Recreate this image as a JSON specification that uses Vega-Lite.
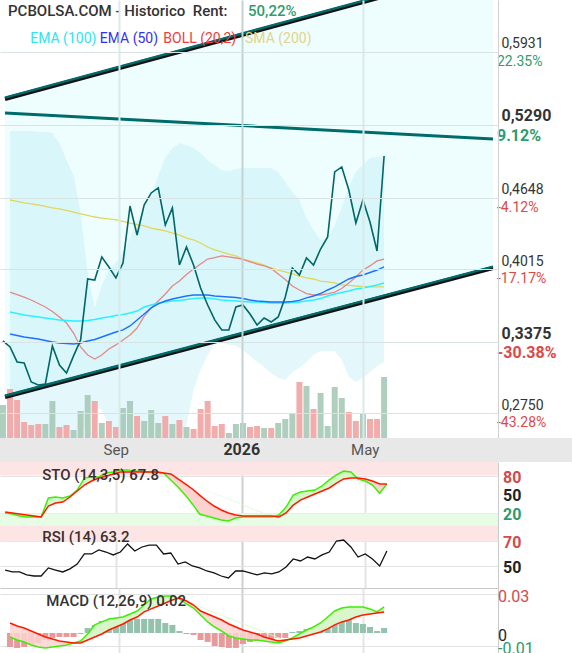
{
"$schema":"https://vega.github.io/schema/vega-lite/v6.json",
"padding":0,"spacing":0,"bounds":"flush","background":"white",
"config":{"view":{"stroke":null},"font":"Roboto","axis":{"labelFont":"Roboto","title":null,"ticks":false,"labelOverlap":false},"text":{"font":"Roboto"}},
"datasets":{
"weekly":[
{"date":"2025-05-09","close":0.3385,"dir":"up","vol":660000},
{"date":"2025-05-16","close":0.3332,"dir":"down","vol":980000,"sma200":0.4627,"boll":0.3816,"bollUp":0.5235,"bollLow":0.2336,"ema50":0.3446,"ema100":0.3640,"k":20.6,"d":22.2,"rsi":46.7,"macd":-0.0031,"signal":0.0077,"hist":-0.0108},
{"date":"2025-05-23","close":0.3200,"dir":"down","vol":760000,"sma200":0.4614,"boll":0.3794,"bollUp":0.5235,"bollLow":0.2292,"ema50":0.3433,"ema100":0.3627,"k":19.0,"d":20.6,"rsi":45.1,"macd":-0.0054,"signal":0.0054,"hist":-0.0115},
{"date":"2025-05-30","close":0.3191,"dir":"down","vol":320000,"sma200":0.4601,"boll":0.3772,"bollUp":0.5235,"bollLow":0.2266,"ema50":0.3420,"ema100":0.3614,"k":15.9,"d":19.0,"rsi":45.1,"macd":-0.0069,"signal":0.0038,"hist":-0.0108},
{"date":"2025-06-06","close":0.3024,"dir":"down","vol":260000,"sma200":0.4592,"boll":0.3746,"bollUp":0.5235,"bollLow":0.2248,"ema50":0.3411,"ema100":0.3605,"k":14.3,"d":17.5,"rsi":42.7,"macd":-0.0092,"signal":0.0015,"hist":-0.0092},
{"date":"2025-06-13","close":0.2997,"dir":"down","vol":280000,"sma200":0.4583,"boll":0.3715,"bollUp":0.5226,"bollLow":0.2248,"ema50":0.3402,"ema100":0.3596,"k":14.3,"d":15.9,"rsi":41.8,"macd":-0.0108,"signal":-0.0008,"hist":-0.0077},
{"date":"2025-06-20","close":0.3006,"dir":"up","vol":280000,"sma200":0.4570,"boll":0.3684,"bollUp":0.5226,"bollLow":0.2266,"ema50":0.3389,"ema100":0.3587,"k":14.3,"d":14.3,"rsi":41.8,"macd":-0.0115,"signal":-0.0031,"hist":-0.0054},
{"date":"2025-06-27","close":0.3341,"dir":"up","vol":740000,"sma200":0.4557,"boll":0.3645,"bollUp":0.5217,"bollLow":0.2292,"ema50":0.3376,"ema100":0.3579,"k":44.4,"d":31.7,"rsi":48.4,"macd":-0.0108,"signal":-0.0046,"hist":-0.0038},
{"date":"2025-07-04","close":0.3173,"dir":"down","vol":220000,"sma200":0.4548,"boll":0.3596,"bollUp":0.5129,"bollLow":0.2319,"ema50":0.3367,"ema100":0.3570,"k":46.0,"d":36.5,"rsi":46.7,"macd":-0.0100,"signal":-0.0062,"hist":-0.0031},
{"date":"2025-07-11","close":0.3103,"dir":"down","vol":260000,"sma200":0.4535,"boll":0.3543,"bollUp":0.4980,"bollLow":0.2354,"ema50":0.3363,"ema100":0.3565,"k":44.4,"d":38.0,"rsi":45.1,"macd":-0.0092,"signal":-0.0069,"hist":-0.0031},
{"date":"2025-07-18","close":0.3253,"dir":"up","vol":160000,"sma200":0.4521,"boll":0.3455,"bollUp":0.4847,"bollLow":0.2407,"ema50":0.3358,"ema100":0.3561,"k":47.6,"d":46.0,"rsi":47.6,"macd":-0.0077,"signal":-0.0077,"hist":-0.0031},
{"date":"2025-07-25","close":0.3394,"dir":"up","vol":540000,"sma200":0.4504,"boll":0.3332,"bollUp":0.4513,"bollLow":0.2513,"ema50":0.3367,"ema100":0.3561,"k":57.0,"d":55.5,"rsi":51.6,"macd":-0.0062,"signal":-0.0077,"hist":-0.0008},
{"date":"2025-08-01","close":0.3931,"dir":"up","vol":860000,"sma200":0.4491,"boll":0.3261,"bollUp":0.3984,"bollLow":0.2689,"ema50":0.3385,"ema100":0.3565,"k":76.0,"d":65.0,"rsi":59.8,"macd":-0.0008,"signal":-0.0054,"hist":0.0038},
{"date":"2025-08-08","close":0.3922,"dir":"down","vol":740000,"sma200":0.4477,"boll":0.3226,"bollUp":0.3676,"bollLow":0.2803,"ema50":0.3398,"ema100":0.3574,"k":77.8,"d":71.4,"rsi":59.8,"macd":0.0062,"signal":-0.0031,"hist":0.0062},
{"date":"2025-08-15","close":0.4125,"dir":"up","vol":300000,"sma200":0.4468,"boll":0.3261,"bollUp":0.3878,"bollLow":0.2777,"ema50":0.3420,"ema100":0.3587,"k":77.8,"d":76.0,"rsi":63.1,"macd":0.0085,"signal":-0.0008,"hist":0.0092},
{"date":"2025-08-22","close":0.4037,"dir":"down","vol":340000,"sma200":0.4460,"boll":0.3314,"bollUp":0.4010,"bollLow":0.2645,"ema50":0.3442,"ema100":0.3596,"k":84.0,"d":79.0,"rsi":61.4,"macd":0.0108,"signal":0.0023,"hist":0.0092},
{"date":"2025-08-29","close":0.3940,"dir":"down","vol":220000,"sma200":0.4451,"boll":0.3350,"bollUp":0.4081,"bollLow":0.2513,"ema50":0.3464,"ema100":0.3609,"k":85.7,"d":82.5,"rsi":59.0,"macd":0.0115,"signal":0.0046,"hist":0.0092},
{"date":"2025-09-05","close":0.4072,"dir":"up","vol":600000,"sma200":0.4438,"boll":0.3394,"bollUp":0.4169,"bollLow":0.2380,"ema50":0.3482,"ema100":0.3618,"k":89.0,"d":85.7,"rsi":61.4,"macd":0.0123,"signal":0.0069,"hist":0.0092},
{"date":"2025-09-12","close":0.4574,"dir":"up","vol":740000,"sma200":0.4424,"boll":0.3438,"bollUp":0.4292,"bollLow":0.2292,"ema50":0.3517,"ema100":0.3631,"k":89.0,"d":85.7,"rsi":68.0,"macd":0.0146,"signal":0.0100,"hist":0.0100},
{"date":"2025-09-19","close":0.4319,"dir":"down","vol":440000,"sma200":0.4411,"boll":0.3499,"bollUp":0.4433,"bollLow":0.2248,"ema50":0.3570,"ema100":0.3649,"k":87.0,"d":85.7,"rsi":62.2,"macd":0.0169,"signal":0.0123,"hist":0.0108},
{"date":"2025-09-26","close":0.4583,"dir":"up","vol":340000,"sma200":0.4398,"boll":0.3601,"bollUp":0.4539,"bollLow":0.2248,"ema50":0.3623,"ema100":0.3684,"k":87.0,"d":85.7,"rsi":65.5,"macd":0.0215,"signal":0.0162,"hist":0.0108},
{"date":"2025-10-03","close":0.4689,"dir":"up","vol":560000,"sma200":0.4380,"boll":0.3676,"bollUp":0.4654,"bollLow":0.2248,"ema50":0.3676,"ema100":0.3702,"k":85.7,"d":85.7,"rsi":67.1,"macd":0.0262,"signal":0.0185,"hist":0.0108},
{"date":"2025-10-10","close":0.4733,"dir":"up","vol":300000,"sma200":0.4367,"boll":0.3737,"bollUp":0.4847,"bollLow":0.2248,"ema50":0.3711,"ema100":0.3720,"k":85.7,"d":85.7,"rsi":67.1,"macd":0.0277,"signal":0.0208,"hist":0.0108},
{"date":"2025-10-17","close":0.4407,"dir":"down","vol":440000,"sma200":0.4354,"boll":0.3799,"bollUp":0.4997,"bollLow":0.2248,"ema50":0.3737,"ema100":0.3728,"k":84.0,"d":84.0,"rsi":59.8,"macd":0.0285,"signal":0.0231,"hist":0.0077},
{"date":"2025-10-24","close":0.4557,"dir":"up","vol":280000,"sma200":0.4336,"boll":0.3869,"bollUp":0.5085,"bollLow":0.2292,"ema50":0.3755,"ema100":0.3737,"k":73.0,"d":82.5,"rsi":60.6,"macd":0.0285,"signal":0.0254,"hist":0.0062},
{"date":"2025-10-31","close":0.4054,"dir":"down","vol":360000,"sma200":0.4319,"boll":0.3913,"bollUp":0.5129,"bollLow":0.2468,"ema50":0.3768,"ema100":0.3742,"k":62.0,"d":74.6,"rsi":51.6,"macd":0.0262,"signal":0.0269,"hist":0.0015},
{"date":"2025-11-07","close":0.4213,"dir":"up","vol":220000,"sma200":0.4292,"boll":0.3971,"bollUp":0.5112,"bollLow":0.2645,"ema50":0.3781,"ema100":0.3750,"k":49.0,"d":66.7,"rsi":53.3,"macd":0.0223,"signal":0.0246,"hist":-0.0008},
{"date":"2025-11-14","close":0.4054,"dir":"down","vol":180000,"sma200":0.4275,"boll":0.4019,"bollUp":0.5085,"bollLow":0.2953,"ema50":0.3790,"ema100":0.3759,"k":35.0,"d":58.7,"rsi":50.0,"macd":0.0192,"signal":0.0215,"hist":-0.0015},
{"date":"2025-11-21","close":0.3852,"dir":"down","vol":580000,"sma200":0.4248,"boll":0.4063,"bollUp":0.5041,"bollLow":0.3129,"ema50":0.3790,"ema100":0.3764,"k":19.0,"d":49.0,"rsi":48.4,"macd":0.0138,"signal":0.0169,"hist":-0.0054},
{"date":"2025-11-28","close":0.3702,"dir":"down","vol":740000,"sma200":0.4213,"boll":0.4107,"bollUp":0.4980,"bollLow":0.3261,"ema50":0.3790,"ema100":0.3764,"k":15.9,"d":39.7,"rsi":45.9,"macd":0.0085,"signal":0.0146,"hist":-0.0069},
{"date":"2025-12-05","close":0.3570,"dir":"down","vol":240000,"sma200":0.4187,"boll":0.4120,"bollUp":0.4935,"bollLow":0.3358,"ema50":0.3781,"ema100":0.3755,"k":12.7,"d":31.7,"rsi":44.3,"macd":0.0046,"signal":0.0123,"hist":-0.0100},
{"date":"2025-12-12","close":0.3482,"dir":"down","vol":280000,"sma200":0.4169,"boll":0.4134,"bollUp":0.4891,"bollLow":0.3367,"ema50":0.3777,"ema100":0.3746,"k":9.5,"d":25.4,"rsi":41.8,"macd":0.0015,"signal":0.0100,"hist":-0.0108},
{"date":"2025-12-19","close":0.3482,"dir":"up","vol":100000,"sma200":0.4151,"boll":0.4125,"bollUp":0.4883,"bollLow":0.3350,"ema50":0.3772,"ema100":0.3742,"k":8.0,"d":20.6,"rsi":40.2,"macd":-0.0023,"signal":0.0069,"hist":-0.0115},
{"date":"2025-12-26","close":0.3684,"dir":"up","vol":280000,"sma200":0.4134,"boll":0.4116,"bollUp":0.4900,"bollLow":0.3341,"ema50":0.3768,"ema100":0.3737,"k":12.7,"d":17.5,"rsi":45.9,"macd":-0.0038,"signal":0.0046,"hist":-0.0115},
{"date":"2026-01-02","close":0.3702,"dir":"up","vol":300000,"sma200":0.4107,"boll":0.4103,"bollUp":0.4909,"bollLow":0.3305,"ema50":0.3759,"ema100":0.3733,"k":14.3,"d":15.9,"rsi":45.9,"macd":-0.0046,"signal":0.0023,"hist":-0.0085},
{"date":"2026-01-09","close":0.3623,"dir":"down","vol":220000,"sma200":0.4090,"boll":0.4081,"bollUp":0.4909,"bollLow":0.3253,"ema50":0.3746,"ema100":0.3728,"k":14.3,"d":15.9,"rsi":44.3,"macd":-0.0054,"signal":0.0008,"hist":-0.0069},
{"date":"2026-01-16","close":0.3526,"dir":"down","vol":240000,"sma200":0.4072,"boll":0.4063,"bollUp":0.4909,"bollLow":0.3200,"ema50":0.3737,"ema100":0.3728,"k":14.3,"d":15.9,"rsi":42.7,"macd":-0.0054,"signal":-0.0008,"hist":-0.0062},
{"date":"2026-01-23","close":0.3587,"dir":"up","vol":200000,"sma200":0.4054,"boll":0.4046,"bollUp":0.4909,"bollLow":0.3156,"ema50":0.3733,"ema100":0.3724,"k":14.3,"d":15.9,"rsi":44.3,"macd":-0.0062,"signal":-0.0031,"hist":-0.0054},
{"date":"2026-01-30","close":0.3552,"dir":"down","vol":200000,"sma200":0.4028,"boll":0.4024,"bollUp":0.4909,"bollLow":0.3103,"ema50":0.3728,"ema100":0.3720,"k":14.3,"d":15.9,"rsi":43.5,"macd":-0.0069,"signal":-0.0046,"hist":-0.0046},
{"date":"2026-02-06","close":0.3596,"dir":"up","vol":300000,"sma200":0.4010,"boll":0.3975,"bollUp":0.4874,"bollLow":0.3059,"ema50":0.3728,"ema100":0.3720,"k":17.5,"d":14.3,"rsi":45.1,"macd":-0.0077,"signal":-0.0062,"hist":-0.0038},
{"date":"2026-02-13","close":0.3772,"dir":"up","vol":380000,"sma200":0.3993,"boll":0.3927,"bollUp":0.4786,"bollLow":0.3041,"ema50":0.3728,"ema100":0.3720,"k":30.0,"d":20.6,"rsi":49.2,"macd":-0.0062,"signal":-0.0054,"hist":-0.0038},
{"date":"2026-02-20","close":0.4028,"dir":"up","vol":480000,"sma200":0.3975,"boll":0.3869,"bollUp":0.4698,"bollLow":0.3112,"ema50":0.3733,"ema100":0.3724,"k":49.0,"d":33.0,"rsi":55.7,"macd":-0.0038,"signal":-0.0046,"hist":0.0008},
{"date":"2026-02-27","close":0.3966,"dir":"down","vol":1120000,"sma200":0.3957,"boll":0.3834,"bollUp":0.4627,"bollLow":0.3147,"ema50":0.3742,"ema100":0.3728,"k":54.0,"d":41.0,"rsi":54.1,"macd":-0.0008,"signal":-0.0038,"hist":0.0015},
{"date":"2026-03-06","close":0.4116,"dir":"up","vol":1040000,"sma200":0.3940,"boll":0.3803,"bollUp":0.4468,"bollLow":0.3200,"ema50":0.3764,"ema100":0.3737,"k":55.5,"d":46.0,"rsi":57.3,"macd":0.0023,"signal":-0.0023,"hist":0.0031},
{"date":"2026-03-13","close":0.4054,"dir":"down","vol":580000,"sma200":0.3931,"boll":0.3790,"bollUp":0.4363,"bollLow":0.3261,"ema50":0.3781,"ema100":0.3746,"k":57.0,"d":50.8,"rsi":55.7,"macd":0.0046,"signal":-0.0008,"hist":0.0038},
{"date":"2026-03-20","close":0.4195,"dir":"up","vol":900000,"sma200":0.3913,"boll":0.3790,"bollUp":0.4275,"bollLow":0.3297,"ema50":0.3803,"ema100":0.3759,"k":63.5,"d":55.5,"rsi":59.0,"macd":0.0077,"signal":0.0008,"hist":0.0038},
{"date":"2026-03-27","close":0.4301,"dir":"up","vol":240000,"sma200":0.3905,"boll":0.3799,"bollUp":0.4292,"bollLow":0.3297,"ema50":0.3834,"ema100":0.3781,"k":73.0,"d":60.3,"rsi":61.4,"macd":0.0123,"signal":0.0031,"hist":0.0054},
{"date":"2026-04-03","close":0.4874,"dir":"up","vol":1020000,"sma200":0.3896,"boll":0.3816,"bollUp":0.4407,"bollLow":0.3297,"ema50":0.3861,"ema100":0.3799,"k":81.0,"d":68.0,"rsi":70.4,"macd":0.0169,"signal":0.0062,"hist":0.0092},
{"date":"2026-04-10","close":0.4918,"dir":"up","vol":800000,"sma200":0.3878,"boll":0.3847,"bollUp":0.4565,"bollLow":0.3217,"ema50":0.3896,"ema100":0.3812,"k":87.0,"d":74.6,"rsi":71.2,"macd":0.0192,"signal":0.0085,"hist":0.0115},
{"date":"2026-04-17","close":0.4715,"dir":"down","vol":520000,"sma200":0.3874,"boll":0.3896,"bollUp":0.4742,"bollLow":0.3068,"ema50":0.3931,"ema100":0.3825,"k":85.7,"d":76.0,"rsi":65.5,"macd":0.0200,"signal":0.0100,"hist":0.0108},
{"date":"2026-04-24","close":0.4424,"dir":"down","vol":340000,"sma200":0.3869,"boll":0.3949,"bollUp":0.4874,"bollLow":0.3024,"ema50":0.3953,"ema100":0.3843,"k":74.6,"d":76.0,"rsi":57.3,"macd":0.0200,"signal":0.0123,"hist":0.0077},
{"date":"2026-05-01","close":0.4627,"dir":"up","vol":500000,"sma200":0.3865,"boll":0.4010,"bollUp":0.4935,"bollLow":0.3059,"ema50":0.3966,"ema100":0.3852,"k":71.4,"d":74.6,"rsi":59.8,"macd":0.0200,"signal":0.0138,"hist":0.0069},
{"date":"2026-05-08","close":0.4433,"dir":"down","vol":380000,"sma200":0.3861,"boll":0.4046,"bollUp":0.4997,"bollLow":0.3112,"ema50":0.3988,"ema100":0.3865,"k":65.0,"d":71.4,"rsi":55.7,"macd":0.0185,"signal":0.0146,"hist":0.0046},
{"date":"2026-05-15","close":0.4178,"dir":"down","vol":380000,"sma200":0.3861,"boll":0.4090,"bollUp":0.5006,"bollLow":0.3165,"ema50":0.4010,"ema100":0.3878,"k":52.0,"d":66.7,"rsi":50.0,"macd":0.0162,"signal":0.0154,"hist":0.0015},
{"date":"2026-05-22","close":0.5015,"dir":"up","vol":1220000,"sma200":0.3861,"boll":0.4107,"bollUp":0.5015,"bollLow":0.3200,"ema50":0.4037,"ema100":0.3896,"k":66.7,"d":66.7,"rsi":62.2,"macd":0.0200,"signal":0.0162,"hist":0.0038}
],
"channel":[
{"date":"2025-05-11","upper":0.5517,"middle":0.5394,"lower":0.2891},
{"date":"2026-09-07","upper":0.6680,"middle":0.5164,"lower":0.4028}
]
},
"vconcat":[
{
"width":498,"height":438,
"resolve":{"scale":{"y":"independent"}},
"layer":[
{"layer":[
 {"data":{"name":"channel"},"mark":{"type":"area","color":"#eefefe","clip":true},
  "encoding":{"x":{"field":"date","type":"temporal","scale":{"type":"utc","domain":[{"year":2025,"month":5,"date":11,"utc":true},{"year":2026,"month":9,"date":7,"utc":true}]}},
   "y":{"field":"lower","type":"quantitative","scale":{"domain":[0.253,0.6389],"zero":false,"nice":false},"axis":null},"y2":{"field":"upper"}}},
 {"data":{"name":"weekly"},"mark":{"type":"area","color":"#b9ecf6","opacity":0.38,"clip":true},
  "encoding":{"x":{"field":"date","type":"temporal"},
   "y":{"field":"bollLow","type":"quantitative","axis":null},"y2":{"field":"bollUp"}}}
]},
{"data":{"name":"weekly"},"mark":{"type":"bar","size":6,"opacity":0.92,"clip":true},
 "encoding":{"x":{"field":"date","type":"temporal"},
  "y":{"field":"vol","type":"quantitative","scale":{"domain":[0,8760000],"nice":false},"axis":null},
  "color":{"field":"dir","type":"nominal","scale":{"domain":["up","down"],"range":["#a8cab9","#f1a5a5"]},"legend":null}}},
{"layer":[
 {"data":{"name":"weekly"},"mark":{"type":"line","color":"#e2d65c","strokeWidth":1.3,"clip":true},
  "encoding":{"x":{"field":"date","type":"temporal","axis":{"values":[{"year":2025,"month":9,"date":1,"utc":true},{"year":2026,"month":1,"date":1,"utc":true},{"year":2026,"month":5,"date":1,"utc":true}],"labels":false,"ticks":false,"domain":false,"grid":true,"gridWidth":2,"gridColor":{"condition":{"test":"utcmonth(datum.value)==0","value":"#c3d2d2"},"value":"#d9eaea"},"zindex":1,"title":null}},
   "y":{"field":"sma200","type":"quantitative","scale":{"domain":[0.253,0.6389],"zero":false,"nice":false},
    "axis":{"orient":"right","values":[0.275,0.3375,0.4015,0.4648,0.529,0.5931],"labelExpr":"replace(format(datum.value,'.4f'),'.',',')","labelBaseline":"alphabetic","labelOffset":-4,"labelPadding":3,"labelColor":"#333333","labelFontSize":{"condition":{"test":"datum.value==0.529||datum.value==0.3375","value":16},"value":14},"labelFontWeight":{"condition":{"test":"datum.value==0.529||datum.value==0.3375","value":"bold"},"value":"normal"},"grid":true,"gridColor":"#d8e4e4","domain":true,"domainColor":"#d0d0d0","ticks":false,"zindex":1,"labelFlush":false,"labelOverlap":false,"title":null}}}},
 {"data":{"name":"weekly"},"mark":{"type":"line","color":"#e48888","strokeWidth":1.3,"clip":true},
  "encoding":{"x":{"field":"date","type":"temporal"},"y":{"field":"boll","type":"quantitative"}}},
 {"data":{"name":"weekly"},"mark":{"type":"line","color":"#2af0ff","strokeWidth":1.4,"clip":true},
  "encoding":{"x":{"field":"date","type":"temporal"},"y":{"field":"ema100","type":"quantitative"}}},
 {"data":{"name":"weekly"},"mark":{"type":"line","color":"#1f70ff","strokeWidth":1.4,"clip":true},
  "encoding":{"x":{"field":"date","type":"temporal"},"y":{"field":"ema50","type":"quantitative"}}},
 {"data":{"name":"channel"},"mark":{"type":"line","color":"#006b6b","strokeWidth":3,"clip":true},
  "encoding":{"x":{"field":"date","type":"temporal"},"y":{"field":"middle","type":"quantitative"}}},
 {"data":{"name":"channel"},"mark":{"type":"line","color":"#111111","strokeWidth":4,"clip":true},
  "encoding":{"x":{"field":"date","type":"temporal"},"y":{"field":"lower","type":"quantitative"}}},
 {"data":{"name":"channel"},"mark":{"type":"line","color":"#006b6b","strokeWidth":2.4,"yOffset":-1.3,"clip":true},
  "encoding":{"x":{"field":"date","type":"temporal"},"y":{"field":"lower","type":"quantitative"}}},
 {"data":{"name":"channel"},"mark":{"type":"line","color":"#111111","strokeWidth":4,"clip":true},
  "encoding":{"x":{"field":"date","type":"temporal"},"y":{"field":"upper","type":"quantitative"}}},
 {"data":{"name":"channel"},"mark":{"type":"line","color":"#006b6b","strokeWidth":2.4,"yOffset":-1.3,"clip":true},
  "encoding":{"x":{"field":"date","type":"temporal"},"y":{"field":"upper","type":"quantitative"}}},
 {"data":{"name":"weekly"},"mark":{"type":"line","color":"#006666","strokeWidth":1.6,"clip":true},
  "encoding":{"x":{"field":"date","type":"temporal"},"y":{"field":"close","type":"quantitative"}}},
 {"data":{"values":[{}]},"mark":{"type":"text","align":"left","baseline":"middle","fontSize":15,"fontWeight":500,"color":"#333333","text":"PCBOLSA.COM - Historico\u00a0 Rent:"},
  "encoding":{"x":{"datum":{"year":2025,"month":5,"date":14,"utc":true},"type":"temporal"},"y":{"datum":0.6292,"type":"quantitative"}}},
 {"data":{"values":[{}]},"mark":{"type":"text","align":"left","baseline":"middle","fontSize":15,"fontWeight":500,"color":"#2e9c6c","text":"50,22%"},
  "encoding":{"x":{"datum":{"year":2026,"month":1,"date":7,"utc":true},"type":"temporal"},"y":{"datum":0.6292,"type":"quantitative"}}},
 {"data":{"values":[{}]},"mark":{"type":"text","align":"left","baseline":"middle","fontSize":14,"color":"#2ae6f0","text":"EMA (100)"},
  "encoding":{"x":{"datum":{"year":2025,"month":6,"date":5,"utc":true},"type":"temporal"},"y":{"datum":0.6045,"type":"quantitative"}}},
 {"data":{"values":[{}]},"mark":{"type":"text","align":"left","baseline":"middle","fontSize":14,"color":"#3030f0","text":"EMA (50)"},
  "encoding":{"x":{"datum":{"year":2025,"month":8,"date":13,"utc":true},"type":"temporal"},"y":{"datum":0.6045,"type":"quantitative"}}},
 {"data":{"values":[{}]},"mark":{"type":"text","align":"left","baseline":"middle","fontSize":14,"color":"#f03c3c","text":"BOLL (20,2)"},
  "encoding":{"x":{"datum":{"year":2025,"month":10,"date":15,"utc":true},"type":"temporal"},"y":{"datum":0.6045,"type":"quantitative"}}},
 {"data":{"values":[{}]},"mark":{"type":"text","align":"left","baseline":"middle","fontSize":14,"color":"#e2d48a","text":"SMA (200)"},
  "encoding":{"x":{"datum":{"year":2026,"month":1,"date":4,"utc":true},"type":"temporal"},"y":{"datum":0.6045,"type":"quantitative"}}},
 {"data":{"values":[{"price":0.5931,"pct":"22.35%"},{"price":0.4648,"pct":"-4.12%"},{"price":0.4015,"pct":"-17.17%"},{"price":0.275,"pct":"-43.28%"}]},
  "mark":{"type":"text","align":"left","baseline":"top","dx":4,"dy":3,"fontSize":14},
  "encoding":{"x":{"datum":{"year":2026,"month":9,"date":7,"utc":true},"type":"temporal"},"y":{"field":"price","type":"quantitative"},"text":{"field":"pct"},
   "color":{"condition":{"test":"datum.price>0.5","value":"#2e9c6c"},"value":"#dd4848"}}},
 {"data":{"values":[{"price":0.529,"pct":"9.12%"},{"price":0.3375,"pct":"-30.38%"}]},
  "mark":{"type":"text","align":"left","baseline":"top","dx":4,"dy":3,"fontSize":16,"fontWeight":"bold"},
  "encoding":{"x":{"datum":{"year":2026,"month":9,"date":7,"utc":true},"type":"temporal"},"y":{"field":"price","type":"quantitative"},"text":{"field":"pct"},
   "color":{"condition":{"test":"datum.price>0.5","value":"#2e9c6c"},"value":"#dd4848"}}}
]}
]
},
{
"width":572,"height":24,
"view":{"fill":"#e8e8e8","stroke":null},
"data":{"values":[{"date":"2025-09-01","label":"Sep"},{"date":"2026-01-01","label":"2026"},{"date":"2026-05-01","label":"May"}]},
"layer":[
 {"transform":[{"filter":"datum.label != '2026'"}],"mark":{"type":"text","fontSize":15,"color":"#555555","baseline":"middle"},
  "encoding":{"x":{"field":"date","type":"temporal","scale":{"type":"utc","domain":[{"year":2025,"month":5,"date":11,"utc":true},{"year":2026,"month":11,"date":18,"utc":true}]},"axis":null},"text":{"field":"label"}}},
 {"transform":[{"filter":"datum.label == '2026'"}],"mark":{"type":"text","fontSize":16,"fontWeight":"bold","color":"#333333","baseline":"middle"},
  "encoding":{"x":{"field":"date","type":"temporal"},"text":{"field":"label"}}}
]
},
{
"width":498,"height":64,
"layer":[
 {"data":{"values":[{}]},"mark":{"type":"rect","color":"#fde5e5"},"encoding":{"y":{"datum":80,"type":"quantitative","scale":{"domain":[0,101.5],"nice":false,"zero":false}},"y2":{"datum":101.5}}},
 {"data":{"values":[{}]},"mark":{"type":"rect","color":"#e7fce5"},"encoding":{"y":{"datum":0,"type":"quantitative"},"y2":{"datum":20}}},
 {"data":{"name":"weekly"},"mark":{"type":"area","color":"#fcd3d0"},
  "encoding":{"x":{"field":"date","type":"temporal","scale":{"type":"utc","domain":[{"year":2025,"month":5,"date":11,"utc":true},{"year":2026,"month":9,"date":7,"utc":true}]},
   "axis":{"values":[{"year":2025,"month":9,"date":1,"utc":true},{"year":2026,"month":1,"date":1,"utc":true},{"year":2026,"month":5,"date":1,"utc":true}],"labels":false,"ticks":false,"domain":true,"domainColor":"#c8c8c8","grid":true,"gridWidth":2,"gridColor":{"condition":{"test":"utcmonth(datum.value)==0","value":"#cfcfcf"},"value":"#e4e4e4"},"title":null}},
   "y":{"field":"k","type":"quantitative","axis":{"orient":"right","values":[20,50,80],"labels":false,"grid":true,"gridColor":"#e2e2e2","domainColor":"#cccccc","ticks":false,"title":null}},
   "y2":{"field":"d"}}},
 {"data":{"name":"weekly"},"transform":[{"filter":"(toDate(datum.date) >= toDate('2025-06-20') && toDate(datum.date) <= toDate('2025-10-17')) || (toDate(datum.date) >= toDate('2026-01-30') && toDate(datum.date) <= toDate('2026-04-24'))"}],
  "mark":{"type":"area","color":"#d3fbc9"},
  "encoding":{"x":{"field":"date","type":"temporal"},"y":{"field":"k","type":"quantitative"},"y2":{"field":"d"}}},
 {"data":{"name":"weekly"},"mark":{"type":"line","color":"#3cf000","strokeWidth":1.5},
  "encoding":{"x":{"field":"date","type":"temporal"},"y":{"field":"k","type":"quantitative"}}},
 {"data":{"name":"weekly"},"mark":{"type":"line","color":"#ff1a00","strokeWidth":1.5},
  "encoding":{"x":{"field":"date","type":"temporal"},"y":{"field":"d","type":"quantitative"}}},
 {"data":{"values":[{}]},"mark":{"type":"text","align":"left","baseline":"middle","fontSize":15,"fontWeight":500,"color":"#3a2e2e","text":"STO (14,3,5) 67.8"},
  "encoding":{"x":{"datum":{"year":2025,"month":6,"date":21,"utc":true},"type":"temporal"},"y":{"datum":80.9,"type":"quantitative"}}},
 {"data":{"values":[{"level":80,"txt":"80"},{"level":50,"txt":"50"},{"level":20,"txt":"20"}]},
  "mark":{"type":"text","align":"left","baseline":"middle","dx":5,"dy":2,"fontSize":16,"fontWeight":"bold"},
  "encoding":{"x":{"datum":{"year":2026,"month":9,"date":7,"utc":true},"type":"temporal"},"y":{"field":"level","type":"quantitative"},"text":{"field":"txt"},
   "color":{"condition":[{"test":"datum.level==80","value":"#d24a4a"},{"test":"datum.level==20","value":"#2b9b6b"}],"value":"#222222"}}}
]
},
{
"width":498,"height":62,
"layer":[
 {"data":{"values":[{}]},"mark":{"type":"rect","color":"#fde5e5"},"encoding":{"y":{"datum":70,"type":"quantitative","scale":{"domain":[32.0,82.65],"nice":false,"zero":false}},"y2":{"datum":82.65}}},
 {"data":{"name":"weekly"},"mark":{"type":"line","color":"#111111","strokeWidth":1.3},
  "encoding":{"x":{"field":"date","type":"temporal","scale":{"type":"utc","domain":[{"year":2025,"month":5,"date":11,"utc":true},{"year":2026,"month":9,"date":7,"utc":true}]},
   "axis":{"values":[{"year":2025,"month":9,"date":1,"utc":true},{"year":2026,"month":1,"date":1,"utc":true},{"year":2026,"month":5,"date":1,"utc":true}],"labels":false,"ticks":false,"domain":true,"domainColor":"#c8c8c8","grid":true,"gridWidth":2,"gridColor":{"condition":{"test":"utcmonth(datum.value)==0","value":"#cfcfcf"},"value":"#e4e4e4"},"title":null}},
   "y":{"field":"rsi","type":"quantitative","axis":{"orient":"right","values":[50,70],"labels":false,"grid":true,"gridColor":"#e2e2e2","domainColor":"#cccccc","ticks":false,"title":null}}}},
 {"data":{"values":[{}]},"mark":{"type":"text","align":"left","baseline":"middle","fontSize":15,"fontWeight":500,"color":"#3a2e2e","text":"RSI (14) 63.2"},
  "encoding":{"x":{"datum":{"year":2025,"month":6,"date":21,"utc":true},"type":"temporal"},"y":{"datum":73.7,"type":"quantitative"}}},
 {"data":{"values":[{"level":70,"txt":"70"},{"level":50,"txt":"50"}]},
  "mark":{"type":"text","align":"left","baseline":"middle","dx":5,"dy":2,"fontSize":16,"fontWeight":"bold"},
  "encoding":{"x":{"datum":{"year":2026,"month":9,"date":7,"utc":true},"type":"temporal"},"y":{"field":"level","type":"quantitative"},"text":{"field":"txt"},
   "color":{"condition":{"test":"datum.level==70","value":"#d24a4a"},"value":"#222222"}}}
]
},
{
"width":498,"height":65,
"layer":[
 {"data":{"name":"weekly"},"mark":{"type":"bar","size":6},
  "encoding":{"x":{"field":"date","type":"temporal","scale":{"type":"utc","domain":[{"year":2025,"month":5,"date":11,"utc":true},{"year":2026,"month":9,"date":7,"utc":true}]},
   "axis":{"values":[{"year":2025,"month":9,"date":1,"utc":true},{"year":2026,"month":1,"date":1,"utc":true},{"year":2026,"month":5,"date":1,"utc":true}],"labels":false,"ticks":false,"domain":false,"grid":true,"gridWidth":2,"gridColor":{"condition":{"test":"utcmonth(datum.value)==0","value":"#cfcfcf"},"value":"#e4e4e4"},"title":null}},
   "y":{"field":"hist","type":"quantitative","scale":{"domain":[-0.0154,0.0346],"nice":false,"zero":false},
    "axis":{"orient":"right","values":[-0.01,0,0.03],"labels":false,"grid":true,"gridColor":"#e2e2e2","domainColor":"#cccccc","ticks":false,"title":null}},
   "y2":{"datum":0},
   "color":{"condition":{"test":"datum.hist >= 0","value":"#94c2ac"},"value":"#e89a9a"}}},
 {"data":{"name":"weekly"},"mark":{"type":"area","color":"#fcd3d0","opacity":0.85},
  "encoding":{"x":{"field":"date","type":"temporal"},"y":{"field":"macd","type":"quantitative"},"y2":{"field":"signal"}}},
 {"data":{"name":"weekly"},"transform":[{"filter":"(toDate(datum.date) >= toDate('2025-07-18') && toDate(datum.date) <= toDate('2025-10-31')) || (toDate(datum.date) >= toDate('2026-02-13') && toDate(datum.date) <= toDate('2026-05-22'))"}],
  "mark":{"type":"area","color":"#d3fbc9","opacity":0.85},
  "encoding":{"x":{"field":"date","type":"temporal"},"y":{"field":"macd","type":"quantitative"},"y2":{"field":"signal"}}},
 {"data":{"name":"weekly"},"mark":{"type":"line","color":"#3cf000","strokeWidth":1.5},
  "encoding":{"x":{"field":"date","type":"temporal"},"y":{"field":"macd","type":"quantitative"}}},
 {"data":{"name":"weekly"},"mark":{"type":"line","color":"#ff1a00","strokeWidth":1.5},
  "encoding":{"x":{"field":"date","type":"temporal"},"y":{"field":"signal","type":"quantitative"}}},
 {"data":{"values":[{}]},"mark":{"type":"text","align":"left","baseline":"middle","fontSize":15,"fontWeight":500,"color":"#333333","text":"MACD (12,26,9) 0.02"},
  "encoding":{"x":{"datum":{"year":2025,"month":6,"date":21,"utc":true},"type":"temporal"},"y":{"datum":0.0246,"type":"quantitative"}}},
 {"data":{"values":[{"level":0.03,"txt":"0.03"},{"level":0,"txt":"0"},{"level":-0.01,"txt":"-0.01"}]},
  "mark":{"type":"text","align":"left","baseline":"middle","dx":5,"dy":3,"fontSize":16},
  "encoding":{"x":{"datum":{"year":2026,"month":9,"date":7,"utc":true},"type":"temporal"},"y":{"field":"level","type":"quantitative"},"text":{"field":"txt"},
   "color":{"condition":[{"test":"datum.level>0.001","value":"#d24a4a"},{"test":"datum.level<-0.001","value":"#2b9b6b"}],"value":"#222222"}}}
]
}
]
}
